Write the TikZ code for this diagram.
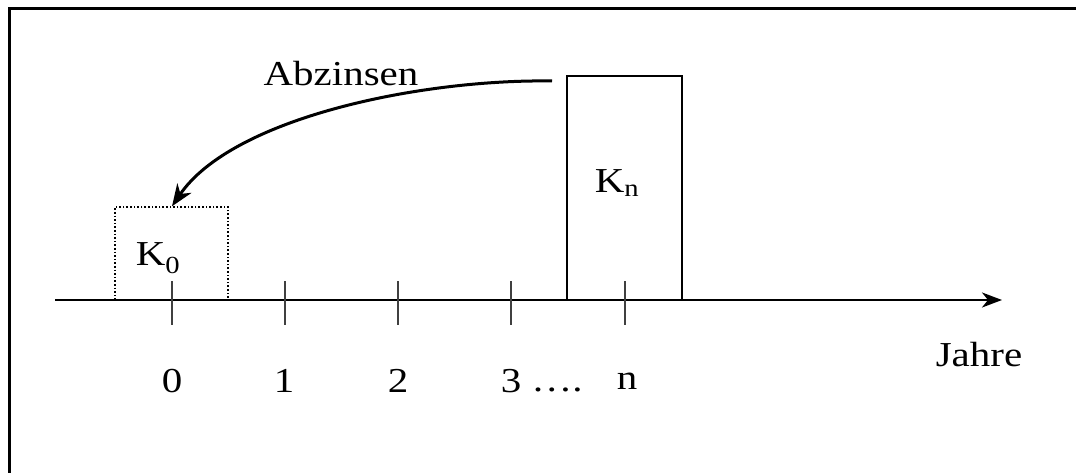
\documentclass[tikz,border=0pt]{standalone}
\usepackage{fontspec}
\setmainfont{Liberation Serif}
\usetikzlibrary{arrows.meta}
\newcommand\widetxt[1]{\scalebox{1.17}[1]{#1}}
\begin{document}
\begin{tikzpicture}[x=1pt,y=-1pt,
  lbl/.style={inner sep=0pt,font=\fontsize{35}{40}\selectfont},
  frameline/.style={line width=3pt,line cap=rect},
  boxsolid/.style={draw,line width=1.4pt,inner sep=0pt},
  boxdotted/.style={draw,line width=1.4pt,dash pattern=on 1.6pt off 2pt,inner sep=0pt},
  tickline/.style={line width=1.4pt,draw=black!75},
  axisline/.style={line width=2.4pt,-{Stealth[length=20pt,width=15pt,inset=6pt]}},
  bendarrow/.style={line width=3pt,-{Stealth[length=22pt,width=17pt,inset=7pt]}}]
\useasboundingbox (0,0) rectangle (1076,473);
% frame
\coordinate (ftl) at (9.5,8.5);
\coordinate (ftr) at (1076,8.5);
\coordinate (fbl) at (9.5,473);
\draw[frameline] (ftr) -- (ftl) -- (fbl);
% boxes
\node[boxdotted,minimum width=113pt,minimum height=93pt] (k0box) at (171.5,253.5) {};
\node[boxsolid,minimum width=115pt,minimum height=224pt] (knbox) at (624.5,188) {};
\node[lbl] (k0) at (158,258) {\widetxt{K\textsubscript{0}}};
\node[lbl] (kn) at (617,183) {\widetxt{K\textsubscript{n}}};
% axis
\coordinate (axs) at (55,300);
\coordinate (axe) at (1002,300);
\draw[axisline] (axs) -- (axe);
% ticks
\foreach \n/\x in {0/172,1/285,2/398,3/511,n/625}{
  \coordinate (t\n a) at (\x,281);
  \coordinate (t\n b) at (\x,325);
  \draw[tickline] (t\n a) -- (t\n b);
}
% tick labels
\node[lbl] (l0) at (172,381) {\widetxt{0}};
\node[lbl] (l1) at (284,381) {\widetxt{1}};
\node[lbl] (l2) at (398,381) {\widetxt{2}};
\node[lbl] (l3) at (511,381) {\widetxt{3}};
\node[lbl,anchor=base] (ldots) at (557,391) {\widetxt{….}};
\node[lbl] (ln) at (627,381) {\widetxt{n}};
\node[lbl] (jahre) at (979,355) {\widetxt{Jahre}};
% discounting arrow
\node[lbl] (abz) at (341,74) {\widetxt{Abzinsen}};
\coordinate (as) at (552,81);
\draw[bendarrow] (as) .. controls (420,79) and (232,118) .. (k0box.north -| 172,0);
\end{tikzpicture}
\end{document}
